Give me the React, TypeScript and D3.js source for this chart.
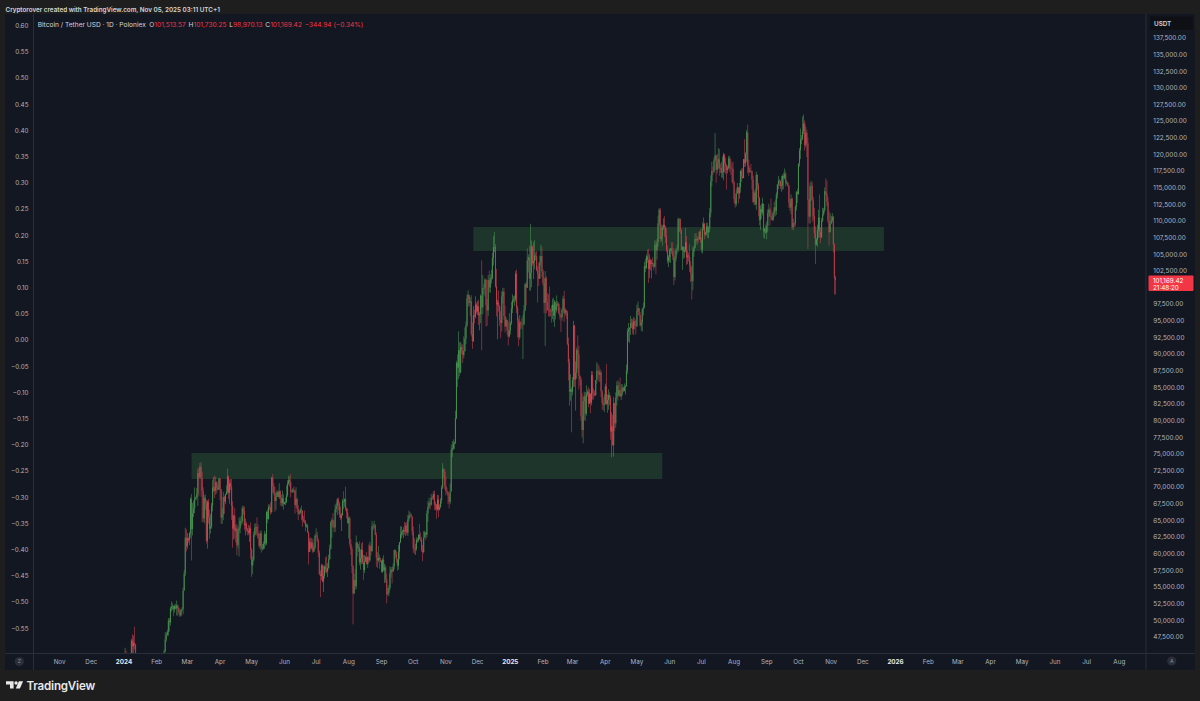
import React from "react";
import * as d3 from "d3";

// ---------- DATA (daily [high, low, close] in thousands of USDT) ----------
const FIRST_OPEN = 42.28;

const y24m01 = [[44.18,42.2,44.18],[45.88,44.15,44.95],[45.5,40.75,42.85],[44.77,42.63,44.19],[44.3,42.62,44.16],[44.23,43.42,43.97],[44.5,43.57,43.93],[47.25,43.2,46.97],[47.9,44.8,46.11],[47.7,44.4,46.63],[49.05,45.6,46.34],[46.5,41.5,42.78],[43.26,42.44,42.85],[43.08,41.72,41.73],[43.4,41.7,42.51],[43.58,42.05,43.14],[43.2,42.2,42.74],[42.93,40.68,41.26],[42.2,40.28,41.62],[41.85,41.45,41.66],[41.88,41.5,41.58],[41.68,39.45,39.57],[40.13,38.5,39.88],[40.55,39.48,40.08],[40.26,39.55,39.96],[42.2,39.82,41.82],[42.2,41.39,42.12],[42.84,41.62,42.03],[43.31,41.8,43.3],[43.88,42.68,42.95],[43.74,42.28,42.58]];
const y24m02 = [[43.28,41.88,43.08],[43.48,42.56,43.2],[43.38,42.89,43.01],[43.12,42.26,42.58],[43.52,42.26,42.66],[43.4,42.57,43.08],[44.37,42.79,44.34],[45.61,44.33,45.29],[48.2,45.24,47.13],[48.17,46.8,47.77],[48.59,47.69,48.29],[50.33,47.71,49.96],[50.37,48.3,49.7],[52.08,49.23,51.8],[52.82,51.33,52.0],[52.57,51.55,52.13],[52.24,50.62,51.65],[52.36,51.16,52.14],[52.49,51.67,51.78],[52.98,50.76,52.26],[52.37,50.63,51.85],[52.03,50.95,51.3],[51.54,50.52,50.74],[51.7,50.58,51.57],[51.96,51.28,51.73],[54.91,50.9,54.48],[57.55,54.45,57.04],[63.93,56.69,62.43],[63.68,60.36,61.13]];
const y24m03 = [[63.11,60.77,62.39],[62.43,61.67,62.03],[63.23,61.32,63.17],[68.5,62.37,68.25],[69.0,59.0,63.72],[67.61,62.76,66.08],[67.98,65.55,66.85],[69.96,66.13,68.3],[68.59,68.05,68.5],[69.9,68.13,69.02],[72.8,67.19,72.12],[72.97,68.62,71.48],[73.65,71.33,73.08],[73.78,68.56,71.4],[72.36,64.76,69.4],[70.0,64.78,65.32],[68.85,64.56,68.39],[68.92,66.6,67.61],[68.12,61.56,61.94],[68.03,60.78,67.84],[68.24,64.53,65.49],[66.65,62.26,63.78],[65.97,63.02,64.06],[67.62,63.79,67.23],[71.15,66.38,69.96],[71.56,69.28,69.99],[71.77,68.37,69.46],[71.55,68.9,70.78],[70.91,69.08,69.91],[70.36,69.57,69.65],[71.37,69.57,71.33]];
const y24m04 = [[71.29,68.07,69.7],[69.7,64.49,65.46],[66.91,64.49,65.97],[69.29,65.06,68.51],[68.72,66.0,67.84],[69.0,67.45,68.9],[70.28,68.85,69.36],[72.78,69.04,71.62],[71.76,68.21,69.14],[71.17,67.52,70.59],[71.25,69.57,70.06],[71.23,65.1,67.2],[67.93,60.92,63.77],[65.84,62.14,65.74],[66.87,62.3,63.45],[64.36,61.72,63.8],[64.5,59.77,61.28],[64.13,60.8,63.47],[65.48,59.6,63.82],[65.45,63.1,64.94],[65.72,64.24,64.94],[67.23,64.53,66.84],[67.21,65.88,66.41],[67.09,63.6,64.28],[65.28,62.79,64.5],[64.8,63.3,63.77],[63.92,62.79,63.46],[64.37,62.8,63.12],[64.23,61.79,63.84],[64.73,59.19,60.64]];
const y24m05 = [[60.85,56.55,58.25],[59.6,56.94,59.12],[63.32,58.85,62.89],[64.5,62.58,63.89],[64.62,62.86,64.03],[65.5,62.7,63.16],[64.4,62.3,62.33],[62.99,60.89,61.19],[63.5,60.66,63.07],[63.47,60.19,60.79],[61.5,60.49,60.83],[61.85,60.63,61.48],[63.45,60.75,62.94],[63.11,61.15,61.58],[66.45,61.33,66.27],[66.7,64.6,65.23],[67.44,65.13,67.05],[67.4,66.6,66.94],[67.7,65.86,66.28],[71.52,66.06,71.45],[71.98,69.16,70.14],[70.62,68.8,69.12],[70.09,66.31,67.93],[69.22,66.6,68.53],[69.56,68.53,69.27],[69.51,68.77,68.52],[70.61,68.24,69.39],[69.54,67.26,68.36],[68.9,67.11,67.63],[69.5,67.13,68.35],[69.0,66.6,67.49]];
const y24m06 = [[67.84,67.38,67.71],[68.44,67.31,67.75],[70.27,67.61,68.8],[71.06,68.55,70.57],[71.76,70.35,71.08],[71.65,70.12,70.76],[71.99,68.5,69.34],[69.56,69.22,69.31],[69.86,69.13,69.65],[70.15,69.23,69.51],[69.56,66.05,67.32],[69.99,66.9,68.24],[68.45,66.3,66.76],[67.3,65.08,66.01],[66.47,65.86,66.19],[66.9,66.02,66.64],[67.24,65.03,66.49],[66.5,64.06,65.17],[65.73,64.69,64.96],[66.48,64.5,64.83],[65.06,63.38,64.1],[64.53,63.94,64.25],[64.5,63.21,63.18],[63.37,58.4,60.28],[62.36,60.24,61.81],[62.45,60.69,60.84],[62.36,60.6,61.67],[62.2,60.09,60.32],[61.23,60.31,60.91],[63.0,60.67,62.68]];
const y24m07 = [[63.84,62.57,62.77],[63.3,61.78,62.03],[62.27,59.47,60.15],[60.5,56.8,56.98],[57.5,53.49,56.66],[58.47,56.03,58.23],[58.44,55.72,55.85],[58.24,54.26,56.71],[58.3,56.28,58.05],[59.47,57.16,57.72],[59.64,57.05,57.34],[58.6,56.51,57.89],[59.88,57.75,59.2],[61.38,59.08,60.79],[64.94,60.63,64.72],[65.38,62.4,65.04],[66.13,63.9,64.09],[65.12,63.22,63.97],[67.43,63.3,66.71],[67.63,66.25,67.15],[68.37,65.8,68.17],[68.47,66.56,67.55],[67.8,65.44,65.93],[67.1,65.1,65.37],[66.12,63.42,65.8],[68.23,65.73,67.91],[69.4,66.7,67.81],[68.3,67.04,68.24],[70.08,66.48,66.78],[66.98,65.32,66.19],[66.83,64.52,64.62]];
const y24m08 = [[65.6,62.3,65.35],[65.59,61.1,61.5],[62.2,59.85,60.7],[61.12,57.12,58.16],[58.28,49.4,54.02],[57.03,53.97,56.03],[57.7,54.55,55.13],[62.75,54.73,61.71],[61.74,59.59,60.88],[61.47,60.27,60.95],[61.86,58.28,58.71],[60.68,57.63,59.35],[61.58,58.42,60.6],[61.8,58.43,58.74],[59.85,56.08,57.56],[59.8,57.1,58.87],[59.7,58.79,59.49],[60.26,58.45,58.44],[59.62,57.87,59.49],[61.4,58.6,59.01],[61.82,58.78,61.16],[61.4,59.72,60.38],[64.96,60.35,64.1],[64.52,63.56,64.18],[64.96,63.82,64.25],[64.48,62.8,62.83],[63.23,58.03,59.42],[60.24,57.86,59.03],[61.18,58.75,59.38],[59.88,57.74,59.12],[59.45,58.73,58.97]];
const y24m09 = [[59.04,57.2,57.3],[59.4,57.13,59.13],[59.81,57.41,57.48],[58.51,55.61,57.97],[58.32,55.67,56.16],[56.99,52.55,53.95],[54.85,53.74,54.16],[55.3,53.63,54.88],[58.09,54.6,57.04],[58.04,56.39,57.65],[57.99,55.55,57.34],[58.6,57.33,58.13],[60.65,57.64,60.57],[60.65,59.46,60.0],[60.38,58.7,59.13],[59.21,57.5,58.21],[61.34,57.61,60.31],[61.79,59.17,61.76],[64.13,61.58,62.95],[64.13,62.34,63.2],[63.57,62.75,63.35],[64.0,62.36,63.58],[64.8,62.87,63.34],[64.69,62.7,64.26],[64.82,62.88,63.18],[65.84,62.69,65.18],[66.5,64.84,65.77],[66.26,65.42,65.86],[66.08,65.43,65.6],[65.62,62.75,63.33]];
const y24m10 = [[64.13,60.16,60.81],[62.38,59.99,60.65],[61.5,59.83,60.75],[62.48,60.46,62.07],[62.37,61.67,62.07],[62.98,61.8,62.82],[64.48,62.12,62.22],[63.2,61.82,62.13],[62.54,60.3,60.58],[61.32,58.9,60.27],[63.42,60.05,62.45],[63.48,62.4,63.19],[63.28,62.05,62.85],[66.5,62.44,66.08],[67.9,64.8,67.04],[68.42,66.75,67.61],[67.94,66.66,67.4],[68.99,67.18,68.43],[68.7,68.1,68.36],[69.4,68.1,69.0],[69.52,66.57,67.37],[67.84,66.57,67.38],[67.48,65.26,66.68],[68.85,66.45,68.16],[68.81,65.51,66.64],[67.43,66.52,67.01],[68.39,66.86,68.02],[70.27,67.54,69.91],[73.62,69.73,72.72],[72.96,71.44,72.33],[72.7,69.68,70.22]];
const y24m11 = [[71.63,68.8,69.47],[69.95,69.02,69.31],[69.38,67.45,68.73],[69.05,66.81,67.81],[70.55,67.45,69.36],[76.4,69.36,75.64],[76.95,74.52,75.9],[77.2,75.56,76.55],[76.85,75.75,76.68],[81.5,76.5,80.37],[89.0,80.22,88.7],[89.95,85.07,87.96],[93.43,86.25,90.61],[91.79,86.67,87.25],[91.85,87.12,91.07],[91.6,90.08,90.58],[91.45,88.7,89.85],[92.65,89.38,90.46],[94.0,90.37,92.31],[94.9,91.53,94.29],[98.95,94.1,98.35],[99.59,97.17,98.92],[98.8,97.18,97.7],[98.58,95.74,97.9],[98.86,92.64,93.01],[94.74,90.79,91.97],[97.21,91.81,95.86],[96.65,94.62,95.64],[98.69,95.39,97.46],[97.78,96.09,96.41]];
const y24m12 = [[98.0,95.86,97.19],[98.17,94.4,95.84],[96.3,93.58,96.0],[99.0,94.66,98.77],[104.09,90.56,97.0],[101.9,95.98,99.92],[100.55,99.02,99.89],[101.4,98.69,101.17],[101.35,94.15,97.37],[98.27,94.26,96.59],[101.9,95.71,101.13],[102.54,99.31,100.0],[102.0,99.21,101.42],[102.65,100.61,101.42],[105.25,101.23,104.46],[107.79,103.33,106.06],[108.35,105.32,106.14],[106.52,100.0,100.2],[102.8,95.67,97.46],[98.16,92.23,97.76],[99.54,96.4,97.22],[97.34,94.2,95.1],[96.42,92.4,94.69],[99.42,93.38,98.68],[99.96,97.59,99.39],[99.96,95.13,95.75],[97.29,93.25,94.16],[95.53,94.1,95.16],[95.17,92.86,93.53],[94.9,91.32,92.64],[96.15,92.5,93.58]];
const y25m01 = [[94.93,92.96,94.59],[97.85,94.4,96.88],[98.98,96.16,98.11],[98.73,97.73,98.24],[98.81,97.27,98.31],[102.48,97.9,102.08],[102.72,96.13,96.92],[97.26,92.5,95.04],[95.35,91.2,92.55],[95.84,92.2,94.73],[94.98,93.83,94.57],[95.4,93.71,94.49],[95.84,89.26,94.52],[97.37,94.32,96.53],[100.68,96.5,100.5],[100.87,97.35,99.99],[105.87,99.95,104.08],[104.99,102.28,104.56],[106.31,99.55,101.33],[109.59,99.55,102.26],[107.07,100.05,106.14],[106.35,103.26,103.65],[106.85,101.26,103.96],[107.12,102.75,104.82],[105.29,104.1,104.71],[105.47,102.46,102.59],[103.22,97.78,102.08],[103.79,100.27,101.33],[104.78,101.3,103.73],[106.46,103.28,104.73],[106.07,101.54,102.43]];
const y25m02 = [[102.75,100.28,100.64],[101.46,96.15,97.69],[102.5,91.23,101.41],[101.73,96.15,97.87],[99.2,96.59,96.62],[99.0,95.67,96.55],[100.14,95.62,96.53],[96.88,95.69,96.48],[97.32,94.75,96.46],[98.34,95.26,97.43],[98.5,94.83,95.78],[98.12,94.09,97.87],[97.25,95.2,96.61],[98.83,96.25,97.5],[97.97,97.23,97.57],[97.73,96.06,96.12],[97.06,95.21,95.77],[96.03,93.35,95.54],[96.9,95.03,96.64],[98.77,96.42,98.33],[99.5,94.86,96.13],[96.94,95.78,96.58],[96.67,95.3,96.27],[96.52,91.35,91.55],[92.5,86.05,88.74],[89.29,82.26,84.35],[87.0,83.0,84.7],[85.12,78.26,84.37]];
const y25m03 = [[86.56,83.8,86.06],[95.0,85.05,94.27],[94.42,85.08,86.22],[88.91,81.53,87.22],[91.0,86.33,90.62],[92.81,87.83,89.96],[91.28,84.67,86.74],[86.85,85.25,86.15],[86.5,80.0,80.73],[84.12,77.46,78.6],[83.62,76.61,82.93],[84.36,80.09,83.68],[84.3,79.94,81.07],[85.31,80.77,84.0],[84.67,83.63,84.34],[85.05,82.0,82.58],[84.73,82.47,84.08],[84.1,81.13,82.72],[87.45,82.32,86.85],[87.43,83.18,84.17],[84.85,83.17,84.04],[84.55,83.64,83.83],[86.12,83.77,86.08],[88.77,85.56,87.5],[88.55,86.3,87.47],[88.29,85.85,86.9],[87.79,85.85,87.23],[87.52,83.55,84.42],[84.59,81.64,82.65],[83.5,81.57,82.39],[83.94,81.28,82.55]];
const y25m04 = [[85.58,82.43,85.16],[88.5,82.32,82.52],[83.95,81.19,83.1],[84.72,81.66,83.84],[84.25,82.35,83.5],[83.82,77.15,78.37],[81.24,74.51,79.14],[80.87,76.24,76.32],[83.55,74.62,82.62],[82.7,78.46,79.61],[84.27,78.94,83.42],[85.91,82.25,85.28],[86.1,83.03,83.76],[85.8,83.69,84.59],[86.5,83.6,83.64],[85.5,83.12,84.03],[85.47,83.74,84.95],[85.13,84.3,84.45],[85.6,84.4,85.06],[85.32,83.95,85.17],[88.46,85.14,87.52],[93.89,87.06,93.44],[94.7,91.9,93.7],[94.01,91.68,93.98],[95.76,92.88,94.64],[95.32,93.91,94.65],[95.26,93.04,93.75],[95.6,92.86,94.98],[95.46,93.73,94.28],[95.2,92.95,94.17]];
const y25m05 = [[97.44,94.12,96.49],[97.9,96.32,96.91],[96.95,95.73,95.89],[96.3,94.15,94.32],[95.2,93.51,94.75],[96.92,93.38,96.8],[97.73,95.8,97.03],[103.89,96.89,103.24],[104.36,102.32,102.97],[104.97,102.8,104.7],[105.72,103.7,104.12],[105.82,100.72,102.81],[104.99,101.43,104.17],[104.36,102.58,103.54],[104.16,101.38,103.74],[104.55,103.11,103.49],[103.72,102.6,103.13],[107.1,102.98,106.45],[107.11,102.0,105.61],[107.32,104.2,106.79],[110.8,106.12,109.67],[111.98,109.29,111.67],[111.95,106.81,107.29],[109.48,106.93,107.79],[109.29,106.3,109.03],[110.42,108.67,109.44],[110.72,107.56,108.99],[109.3,106.66,107.8],[108.91,105.32,105.64],[106.33,103.63,103.99],[104.88,103.07,104.59]];
const y25m06 = [[105.88,103.8,105.64],[105.96,103.7,105.88],[106.82,105.05,105.43],[106.79,104.17,104.73],[105.92,100.37,101.58],[105.5,101.09,104.39],[105.96,103.94,105.62],[106.45,104.98,105.73],[110.53,105.34,110.26],[110.4,108.35,110.27],[110.38,108.08,108.65],[108.8,105.67,105.67],[106.19,102.66,106.07],[106.25,104.3,105.41],[106.12,104.49,105.59],[108.95,105.31,106.81],[107.77,103.37,104.55],[105.56,103.54,104.85],[105.28,103.9,104.61],[106.51,102.35,103.29],[103.99,100.84,102.12],[103.16,98.2,100.96],[106.14,99.6,105.41],[106.29,104.64,105.96],[108.14,105.87,107.3],[108.2,106.62,107.09],[107.76,106.43,107.33],[107.59,106.82,107.3],[108.53,107.17,108.38],[108.79,106.74,107.14]];
const y25m07 = [[107.55,105.26,105.7],[109.77,105.12,108.85],[110.53,108.59,109.58],[109.75,107.27,107.99],[108.42,107.79,108.22],[109.74,107.82,109.2],[109.72,107.47,108.26],[109.22,107.4,108.92],[111.98,108.36,111.23],[116.87,110.58,115.99],[118.87,115.22,117.52],[118.2,116.92,117.42],[119.49,117.24,119.09],[123.22,118.95,119.84],[119.95,115.74,117.68],[120.06,117.16,118.78],[120.98,117.84,119.28],[120.79,116.8,117.93],[118.62,117.23,117.92],[118.86,116.52,117.27],[119.68,116.52,117.41],[120.25,116.13,119.95],[120.1,117.3,118.76],[119.52,117.11,118.34],[118.5,114.72,117.64],[118.3,117.15,117.93],[119.8,117.84,119.45],[119.78,117.42,118.06],[119.27,116.96,117.92],[118.8,115.8,117.83],[118.92,115.5,115.76]];
const y25m08 = [[116.05,112.72,113.3],[114.0,112.0,112.53],[114.72,112.21,114.21],[115.72,114.11,115.06],[115.12,112.65,114.12],[115.72,113.35,114.99],[117.68,114.26,117.49],[117.94,115.86,116.67],[117.9,116.3,116.46],[119.31,116.46,119.29],[122.3,118.11,118.69],[120.32,118.2,120.17],[123.67,118.92,123.31],[124.47,117.18,118.3],[119.22,116.8,117.4],[117.99,117.25,117.49],[118.58,117.26,117.45],[117.62,114.72,116.23],[116.8,112.74,112.87],[114.6,112.38,114.27],[114.81,112.38,112.5],[117.43,111.68,116.94],[117.0,114.69,115.37],[115.69,110.7,113.49],[113.64,109.34,110.11],[112.35,108.67,111.79],[112.65,110.35,111.26],[113.51,110.86,112.58],[112.65,107.47,108.41],[108.96,107.35,108.82],[109.48,108.08,108.25]];
const y25m09 = [[109.91,107.26,109.25],[111.77,108.4,111.24],[112.6,110.6,111.71],[112.0,109.33,110.72],[113.38,110.21,110.66],[111.3,110.0,110.19],[111.56,110.02,111.14],[112.87,110.61,112.06],[113.23,110.77,111.55],[114.31,110.94,113.96],[115.5,113.4,115.5],[116.78,114.77,116.06],[116.3,115.25,115.95],[116.08,114.8,115.27],[116.77,114.38,115.35],[117.0,114.72,116.79],[117.28,114.74,116.46],[117.9,116.22,117.11],[117.45,115.2,115.7],[116.1,115.46,115.72],[115.92,115.15,115.31],[115.45,112.0,112.75],[113.3,111.5,112.03],[114.02,111.06,113.33],[113.55,108.7,109.05],[110.35,108.62,109.68],[109.8,109.1,109.66],[112.36,109.23,112.12],[114.47,111.57,114.4],[114.8,112.7,114.05]];
const y25m10 = [[118.65,113.96,118.62],[121.0,118.15,120.61],[123.9,119.3,122.27],[122.92,121.54,122.38],[125.7,122.16,123.51],[126.0,123.06,124.66],[125.12,120.58,121.4],[124.2,121.06,123.28],[123.76,119.62,121.67],[122.55,105.8,113.2],[113.36,109.7,110.65],[115.77,109.58,115.17],[116.05,113.05,115.27],[115.8,109.84,113.1],[113.62,110.2,110.76],[111.98,107.45,108.19],[109.2,103.53,106.43],[107.48,106.33,107.17],[109.45,106.12,108.64],[111.7,107.48,110.52],[113.99,107.5,108.4],[109.05,106.7,107.57],[110.45,107.4,110.03],[112.0,109.85,111.0],[111.96,110.8,111.63],[115.03,111.32,114.47],[116.4,113.85,114.11],[116.06,112.2,112.89],[113.64,109.72,110.02],[111.56,106.3,108.3],[111.19,108.4,109.61]];
const y25m11 = [[110.79,109.5,110.1],[111.2,109.81,110.64],[110.79,105.3,106.52],[106.65,98.95,101.51],[101.73,98.97,101.17]];

const monthBlocks: [number, number, number[][]][] = [
  [2024, 0, y24m01], [2024, 1, y24m02], [2024, 2, y24m03], [2024, 3, y24m04],
  [2024, 4, y24m05], [2024, 5, y24m06], [2024, 6, y24m07], [2024, 7, y24m08],
  [2024, 8, y24m09], [2024, 9, y24m10], [2024, 10, y24m11], [2024, 11, y24m12],
  [2025, 0, y25m01], [2025, 1, y25m02], [2025, 2, y25m03], [2025, 3, y25m04],
  [2025, 4, y25m05], [2025, 5, y25m06], [2025, 6, y25m07], [2025, 7, y25m08],
  [2025, 8, y25m09], [2025, 9, y25m10], [2025, 10, y25m11],
];

// Support / resistance zones: [from, to, low, high]
const zones: [string, string, number, number][] = [
  ["2024-03-05", "2025-05-25", 71240, 75150],
  ["2024-11-27", "2025-12-21", 105500, 109100],
];

const rightTicks = [137500,135000,132500,130000,127500,125000,122500,120000,117500,115000,112500,110000,107500,105000,102500,100000,97500,95000,92500,90000,87500,85000,82500,80000,77500,75000,72500,70000,67500,65000,62500,60000,57500,55000,52500,50000,47500];
const leftTicks = [0.60,0.55,0.50,0.45,0.40,0.35,0.30,0.25,0.20,0.15,0.10,0.05,0.00,-0.05,-0.10,-0.15,-0.20,-0.25,-0.30,-0.35,-0.40,-0.45,-0.50,-0.55];
const timeTicks: [string, string][] = [
  ["2023-11-01","Nov"],["2023-12-01","Dec"],["2024-01-01","2024"],["2024-02-01","Feb"],["2024-03-01","Mar"],["2024-04-01","Apr"],["2024-05-01","May"],["2024-06-01","Jun"],["2024-07-01","Jul"],["2024-08-01","Aug"],["2024-09-01","Sep"],["2024-10-01","Oct"],["2024-11-01","Nov"],["2024-12-01","Dec"],
  ["2025-01-01","2025"],["2025-02-01","Feb"],["2025-03-01","Mar"],["2025-04-01","Apr"],["2025-05-01","May"],["2025-06-01","Jun"],["2025-07-01","Jul"],["2025-08-01","Aug"],["2025-09-01","Sep"],["2025-10-01","Oct"],["2025-11-01","Nov"],["2025-12-01","Dec"],
  ["2026-01-01","2026"],["2026-02-01","Feb"],["2026-03-01","Mar"],["2026-04-01","Apr"],["2026-05-01","May"],["2026-06-01","Jun"],["2026-07-01","Jul"],["2026-08-01","Aug"],
];

const lastPrice = 101169.42;
const countdown = "21:48:20";
const headerText = "Cryptorover created with TradingView.com, Nov 05, 2025 03:11 UTC+1";
const symbolText = "Bitcoin / Tether USD · 1D · Poloniex";
const ohlcLabels: [string, string][] = [["O","101,513.57"],["H","101,730.25"],["L","98,970.13"],["C","101,169.42"]];
const changeText = "−344.94 (−0.34%)";

// ---------- STYLE ----------
const FONT = "Inter, 'Noto Sans', sans-serif";
const FRAME = "#1e1e1f";
const PANE = "#131722";
const LINE = "#2a2e39";
const TEXT = "#b2b5be";
const UP = "#47904f";
const DOWN = "#bd3f4b";
const RED = "#f23645";

const PL = 33.5, PR = 1146, PT = 14, PB = 653.5;

export default function App() {
  const candles: { t: Date; o: number; h: number; l: number; c: number }[] = [];
  let prev = FIRST_OPEN * 1000;
  monthBlocks.forEach(([yr, mo, days]) => {
    days.forEach((d, i) => {
      const c = d[2] * 1000;
      candles.push({ t: new Date(Date.UTC(yr, mo, i + 1)), o: prev, h: d[0] * 1000, l: d[1] * 1000, c });
      prev = c;
    });
  });

  const x = d3.scaleUtc()
    .domain([new Date(Date.UTC(2023, 10, 1)), new Date(Date.UTC(2026, 7, 1))])
    .range([59.6, 1119.3]);
  const y = d3.scaleLinear().domain([47500, 137500]).range([637, 38]);
  const yPct = d3.scaleLinear().domain([-0.55, 0.6]).range([628.3, 25.7]);

  const priceY = y(lastPrice);
  const boxTop = priceY - 4.3;
  const boxH = 15.5;
  const fmt = d3.format(",.2f");
  const pctFmt = (v: number) => (v < 0 ? "−" : "") + Math.abs(v).toFixed(2);

  return (
    <div style={{ position: "absolute", left: 0, top: 0 }}>
      <svg width={1200} height={701} style={{ display: "block", fontFamily: FONT }}>
        <defs>
          <clipPath id="pane">
            <rect x={PL} y={PT} width={PR - PL} height={PB - PT} />
          </clipPath>
        </defs>
        <rect x={0} y={0} width={1200} height={701} fill={FRAME} />
        <rect x={5} y={PT} width={1190} height={670 - PT} fill={PANE} />

        {/* header */}
        <text x={5.5} y={11.6} fontSize={6.3} fontWeight={600} fill="#d6d6d6">{headerText}</text>

        {/* zones */}
        <g clipPath="url(#pane)">
          {zones.map(([a, b, lo, hi], i) => (
            <rect key={i} x={x(new Date(a + "T00:00:00Z"))} y={y(hi)}
              width={x(new Date(b + "T00:00:00Z")) - x(new Date(a + "T00:00:00Z"))}
              height={y(lo) - y(hi)} fill="rgba(76,175,80,0.2)" />
          ))}
        </g>

        {/* candles */}
        <g clipPath="url(#pane)">
          {candles.map((d, i) => {
            const cx = x(d.t);
            const col = d.c >= d.o ? UP : DOWN;
            const top = y(Math.max(d.o, d.c));
            const bh = Math.max(0.6, y(Math.min(d.o, d.c)) - top);
            return (
              <g key={i} fill={col}>
                <rect x={cx - 0.3} y={y(d.h)} width={0.6} height={Math.max(0.5, y(d.l) - y(d.h))} />
                <rect x={cx - 0.5} y={top} width={1.0} height={bh} />
              </g>
            );
          })}
        </g>

        {/* separators */}
        <line x1={PL} x2={PL} y1={PT} y2={670} stroke={LINE} strokeWidth={1} />
        <line x1={PR} x2={PR} y1={PT} y2={670} stroke={LINE} strokeWidth={1} />
        <line x1={5} x2={1195} y1={PB} y2={PB} stroke={LINE} strokeWidth={1} />

        {/* legend */}
        <text x={37.7} y={26.6} fontSize={6.6} fill="#d1d4dc">
          <tspan>{symbolText}</tspan>
          {ohlcLabels.map(([k, v], i) => (
            <React.Fragment key={k}>
              <tspan dx={i === 0 ? 3.4 : 2.8} fill="#d1d4dc">{k}</tspan>
              <tspan fill={RED}>{v}</tspan>
            </React.Fragment>
          ))}
          <tspan dx={2.8} fill={RED}>{changeText}</tspan>
        </text>

        {/* left percent axis */}
        {leftTicks.map((v) => (
          <text key={v} x={28.5} y={yPct(v)} dy="0.35em" textAnchor="end" fontSize={6.3} fill={TEXT}>{pctFmt(v)}</text>
        ))}

        {/* right price axis */}
        {rightTicks.filter((v) => Math.abs(y(v) - (boxTop + boxH / 2)) > 10.5).map((v) => (
          <text key={v} x={1153.3} y={y(v)} dy="0.35em" fontSize={6.4} fill={TEXT}>{fmt(v)}</text>
        ))}
        <rect x={1150} y={16.5} width={43} height={13.5} fill="#0e1015" />
        <text x={1154} y={23.3} dy="0.35em" fontSize={6.3} fontWeight={600} fill="#d1d4dc">USDT</text>

        {/* last price label */}
        <rect x={1148.5} y={boxTop} width={45} height={boxH} rx={1} fill={RED} />
        <text x={1153} y={priceY + 0.8} dy="0.35em" fontSize={6.3} fill="#ffffff">{fmt(lastPrice)}</text>
        <text x={1153} y={priceY + 7.6} dy="0.35em" fontSize={6.3} fill="#ffffff">{countdown}</text>

        {/* time axis */}
        {timeTicks.map(([d, lab]) => {
          const isYear = /^\d{4}$/.test(lab);
          return (
            <text key={d} x={x(new Date(d + "T00:00:00Z"))} y={661.5} dy="0.35em" textAnchor="middle"
              fontSize={6.3} fontWeight={isYear ? 700 : 400} fill={isYear ? "#e6e7ea" : TEXT}>{lab}</text>
          );
        })}
        <circle cx={19.3} cy={661.6} r={4.6} fill="#2a2e39" />
        <text x={19.3} y={661.6} dy="0.35em" textAnchor="middle" fontSize={5.2} fill="#8a8d96">Z</text>
        <circle cx={1171.7} cy={661} r={4.6} fill="#2a2e39" />
        <text x={1171.7} y={661} dy="0.35em" textAnchor="middle" fontSize={5.2} fill="#8a8d96">A</text>

        {/* TradingView logo */}
        <g transform="translate(6,681.3) scale(0.95)" fill="#e8e8e8">
          <path d="M0,0 H8 V7.5 H4.2 V3.4 H0 Z" />
          <circle cx={10.6} cy={1.8} r={1.8} />
          <path d="M13.6,0 H18 L14.6,7.5 H10.3 Z" />
        </g>
        <text x={26.5} y={690} fontSize={11.6} fontWeight={600} fill="#e8e8e8" letterSpacing={-0.2}>TradingView</text>
      </svg>
    </div>
  );
}
